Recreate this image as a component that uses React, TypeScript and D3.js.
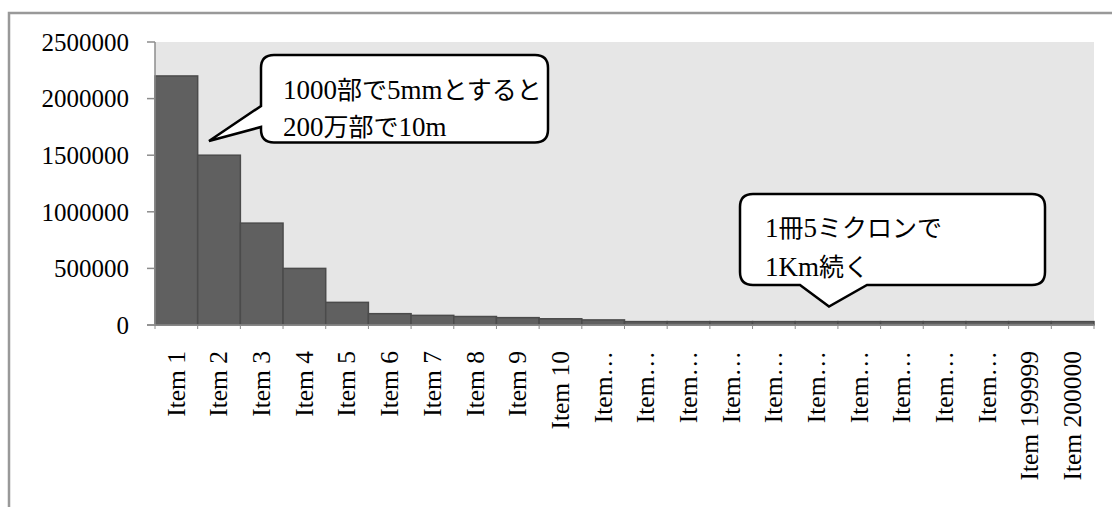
import React from "react";
import * as d3 from "d3";

const categories: string[] = [
  "Item 1", "Item 2", "Item 3", "Item 4", "Item 5", "Item 6", "Item 7", "Item 8", "Item 9", "Item 10",
  "Item…", "Item…", "Item…", "Item…", "Item…", "Item…", "Item…", "Item…", "Item…", "Item…",
  "Item 199999", "Item 200000",
];
const values: number[] = [
  2200000, 1500000, 900000, 500000, 200000, 100000, 85000, 75000, 65000, 55000,
  45000, 30000, 30000, 30000, 30000, 30000, 30000, 30000, 30000, 30000,
  30000, 30000,
];
const yTicks: number[] = [0, 500000, 1000000, 1500000, 2000000, 2500000];
const note1: string[] = ["1000部で5mmとすると", "200万部で10m"];
const note2: string[] = ["1冊5ミクロンで", "1Km続く"];

const W = 1112;
const H = 507;
const plot = { left: 155, right: 1094, top: 42, bottom: 325 };
const LATIN = "'Liberation Serif', 'Times New Roman', serif";
const CJK = "'Noto Sans CJK JP', sans-serif";

function segments(s: string): { t: string; cjk: boolean }[] {
  const out: { t: string; cjk: boolean }[] = [];
  for (const ch of s) {
    const cjk = /[\u3000-\u9fff\uff00-\uffef]/.test(ch);
    const last = out[out.length - 1];
    if (last && last.cjk === cjk) last.t += ch;
    else out.push({ t: ch, cjk });
  }
  return out;
}

function calloutPath(
  x0: number, y0: number, x1: number, y1: number, r: number,
  side: "left" | "bottom", t1: number, t2: number, tip: [number, number]
): string {
  const p: string[] = [];
  p.push(`M${x0 + r},${y0}`);
  p.push(`L${x1 - r},${y0}`);
  p.push(`Q${x1},${y0} ${x1},${y0 + r}`);
  p.push(`L${x1},${y1 - r}`);
  p.push(`Q${x1},${y1} ${x1 - r},${y1}`);
  if (side === "bottom") {
    p.push(`L${t2},${y1}`);
    p.push(`L${tip[0]},${tip[1]}`);
    p.push(`L${t1},${y1}`);
  }
  p.push(`L${x0 + r},${y1}`);
  p.push(`Q${x0},${y1} ${x0},${y1 - r}`);
  if (side === "left") {
    p.push(`L${x0},${t2}`);
    p.push(`L${tip[0]},${tip[1]}`);
    p.push(`L${x0},${t1}`);
  }
  p.push(`L${x0},${y0 + r}`);
  p.push(`Q${x0},${y0} ${x0 + r},${y0}`);
  p.push("Z");
  return p.join(" ");
}

function MixedText({ x, y, s, size }: { x: number; y: number; s: string; size: number }) {
  return (
    <text x={x} y={y} fontSize={size} fill="#000">
      {segments(s).map((seg, i) => (
        <tspan key={i} fontFamily={seg.cjk ? CJK : LATIN} fontSize={seg.cjk ? size - 1 : size + 1}>
          {seg.t}
        </tspan>
      ))}
    </text>
  );
}

export default function App() {
  const x = d3
    .scaleBand<number>()
    .domain(d3.range(categories.length))
    .range([plot.left, plot.right])
    .paddingInner(0)
    .paddingOuter(0);
  const y = d3.scaleLinear().domain([0, 2500000]).range([plot.bottom, plot.top]);
  const bw = x.bandwidth();

  return (
    <svg
      width={W}
      height={H}
      style={{ position: "absolute", left: 0, top: 0, background: "#fff" }}
      fontFamily={LATIN}
    >
      <rect x={9} y={13} width={W + 20} height={H + 20} fill="none" stroke="#999" strokeWidth={2.5} />
      <rect
        x={plot.left}
        y={plot.top}
        width={plot.right - plot.left}
        height={plot.bottom - plot.top}
        fill="#e6e6e6"
      />
      {values.map((v, i) => (
        <rect
          key={i}
          x={x(i)!}
          y={y(v)}
          width={bw}
          height={y(0) - y(v)}
          fill="#606060"
          stroke="#4b4b4b"
          strokeWidth={1.5}
        />
      ))}
      <line x1={plot.left} x2={plot.left} y1={plot.top} y2={plot.bottom} stroke="#8c8c8c" strokeWidth={1.5} />
      {yTicks.map((t) => (
        <g key={t}>
          <line x1={plot.left - 8} x2={plot.left} y1={y(t)} y2={y(t)} stroke="#8c8c8c" strokeWidth={1.5} />
          <text x={129} y={y(t)} dy="0.35em" textAnchor="end" fontSize={25} fill="#000">
            {t}
          </text>
        </g>
      ))}
      <line x1={plot.left - 8} x2={plot.right} y1={plot.bottom} y2={plot.bottom} stroke="#8c8c8c" strokeWidth={1.5} />
      {d3.range(categories.length + 1).map((i) => {
        const xx = plot.left + i * bw;
        return <line key={i} x1={xx} x2={xx} y1={plot.bottom} y2={plot.bottom + 4} stroke="#8c8c8c" strokeWidth={1} />;
      })}
      {categories.map((c, i) => {
        const cx = x(i)! + bw / 2;
        return (
          <text
            key={i}
            transform={`translate(${cx},351) rotate(-90)`}
            textAnchor="end"
            dy="0.33em"
            fontSize={25.5}
            fill="#000"
          >
            {c}
          </text>
        );
      })}
      <path
        d={calloutPath(261, 55, 548, 142.5, 13, "left", 106, 127, [209, 141])}
        fill="#fff"
        stroke="#000"
        strokeWidth={2.5}
      />
      {note1.map((s, i) => (
        <MixedText key={i} x={283} y={99 + i * 37} s={s} size={26} />
      ))}
      <path
        d={calloutPath(740, 194, 1045, 285, 13, "bottom", 800, 867, [829, 306.5])}
        fill="#fff"
        stroke="#000"
        strokeWidth={2.5}
      />
      {note2.map((s, i) => (
        <MixedText key={i} x={765} y={236.5 + i * 39} s={s} size={26} />
      ))}
    </svg>
  );
}
